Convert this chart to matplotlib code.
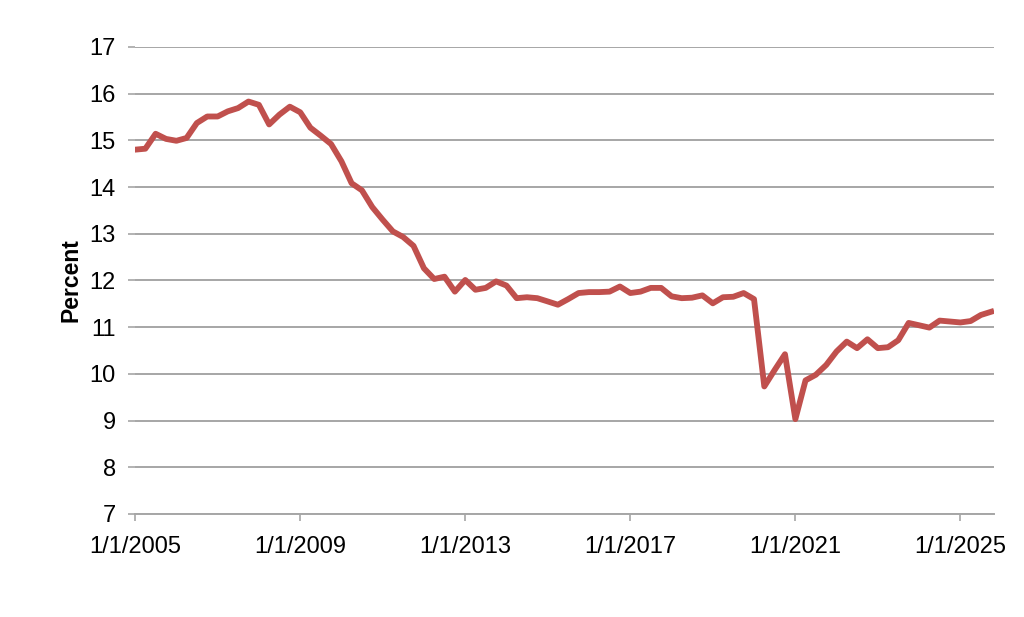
import datetime as dt
import matplotlib
matplotlib.use("Agg")
import matplotlib.pyplot as plt
import pandas as pd

plt.rcParams['font.family'] = ['Liberation Sans', 'DejaVu Sans']

# quarterly series, 2005Q1 .. 2025Q4
start = "2005-01-01"
values = [
    14.80, 14.82, 15.14, 15.03, 14.99, 15.05, 15.37, 15.51, 15.51, 15.62,
    15.69, 15.83, 15.76, 15.34, 15.55, 15.72, 15.60, 15.27, 15.10, 14.92,
    14.55, 14.08, 13.93, 13.57, 13.30, 13.05, 12.93, 12.74, 12.26, 12.03,
    12.08, 11.76, 12.01, 11.80, 11.84, 11.98, 11.89, 11.62, 11.64, 11.62,
    11.55, 11.48, 11.60, 11.73, 11.75, 11.75, 11.76, 11.87, 11.73, 11.76,
    11.84, 11.84, 11.66, 11.62, 11.63, 11.68, 11.51, 11.64, 11.65, 11.73,
    11.60, 9.73, 10.08, 10.42, 9.03, 9.86, 9.98, 10.19, 10.48, 10.69,
    10.55, 10.74, 10.55, 10.57, 10.72, 11.09, 11.04, 10.99, 11.14, 11.12,
    11.10, 11.13, 11.26, 11.33,
]
dates = pd.date_range(start, periods=len(values), freq="QS")

tick_years = [2005, 2009, 2013, 2017, 2021, 2025]
y_ticks = list(range(7, 18))

fig = plt.figure(figsize=(10.24, 6.17), dpi=100)
ax = fig.add_axes([0.132, 0.167, 0.839, 0.757])

ax.plot(dates, values, color="#C0504D", linewidth=4.2, solid_joinstyle="round", zorder=3)

ax.set_ylim(7, 17)
ax.set_yticks(y_ticks)
ax.set_xlim(dt.datetime(2005, 1, 1), dt.datetime(2025, 10, 28))
ax.set_xticks([dt.datetime(y, 1, 1) for y in tick_years])
ax.set_xticklabels([f"1/1/{y}" for y in tick_years])

ax.grid(axis="y", color="#A6A6A6", linewidth=1.4)
ax.set_axisbelow(True)
for s in ["left", "right", "top"]:
    ax.spines[s].set_visible(False)
ax.spines["bottom"].set_color("#A6A6A6")
ax.spines["bottom"].set_linewidth(1.4)
ax.tick_params(axis="both", colors="#A6A6A6", labelcolor="black", labelsize=17, length=5, width=1.2)
ax.tick_params(axis="y", pad=9)
ax.tick_params(axis="x", pad=11)

ax.set_ylabel("Percent", fontsize=16.5, fontweight="bold", labelpad=5)

fig.savefig("out.png", dpi=100)
